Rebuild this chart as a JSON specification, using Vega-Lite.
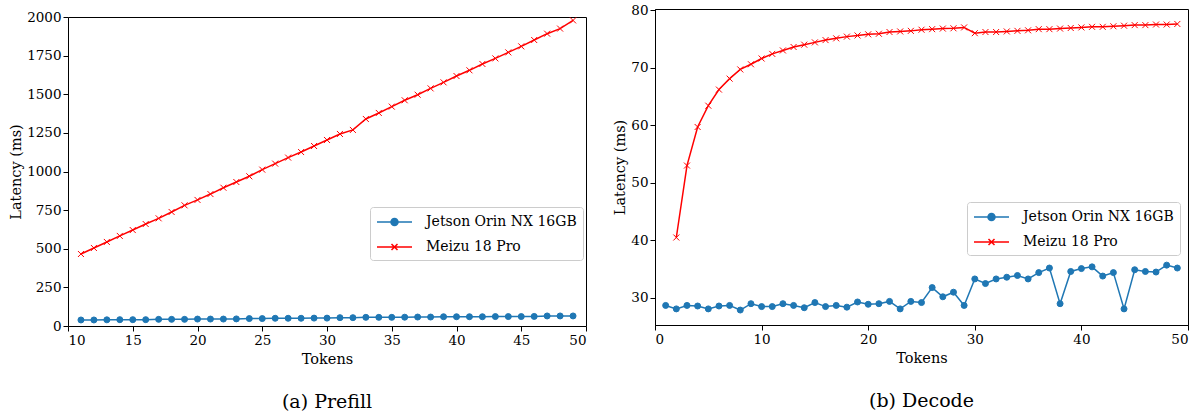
{
  "$schema": "https://vega.github.io/schema/vega-lite/v6.json",
  "background": "white",
  "padding": {"left": 8, "top": 2, "right": 0, "bottom": 0},
  "spacing": 25,
  "datasets": {
    "prefill": [
      {"tokens": 11, "latency": 39, "device": "Jetson Orin NX 16GB"},
      {"tokens": 12, "latency": 39, "device": "Jetson Orin NX 16GB"},
      {"tokens": 13, "latency": 40, "device": "Jetson Orin NX 16GB"},
      {"tokens": 14, "latency": 41, "device": "Jetson Orin NX 16GB"},
      {"tokens": 15, "latency": 41, "device": "Jetson Orin NX 16GB"},
      {"tokens": 16, "latency": 41, "device": "Jetson Orin NX 16GB"},
      {"tokens": 17, "latency": 43, "device": "Jetson Orin NX 16GB"},
      {"tokens": 18, "latency": 43, "device": "Jetson Orin NX 16GB"},
      {"tokens": 19, "latency": 43, "device": "Jetson Orin NX 16GB"},
      {"tokens": 20, "latency": 45, "device": "Jetson Orin NX 16GB"},
      {"tokens": 21, "latency": 45, "device": "Jetson Orin NX 16GB"},
      {"tokens": 22, "latency": 45, "device": "Jetson Orin NX 16GB"},
      {"tokens": 23, "latency": 46, "device": "Jetson Orin NX 16GB"},
      {"tokens": 24, "latency": 48, "device": "Jetson Orin NX 16GB"},
      {"tokens": 25, "latency": 48, "device": "Jetson Orin NX 16GB"},
      {"tokens": 26, "latency": 50, "device": "Jetson Orin NX 16GB"},
      {"tokens": 27, "latency": 50, "device": "Jetson Orin NX 16GB"},
      {"tokens": 28, "latency": 50, "device": "Jetson Orin NX 16GB"},
      {"tokens": 29, "latency": 51, "device": "Jetson Orin NX 16GB"},
      {"tokens": 30, "latency": 51, "device": "Jetson Orin NX 16GB"},
      {"tokens": 31, "latency": 54, "device": "Jetson Orin NX 16GB"},
      {"tokens": 32, "latency": 54, "device": "Jetson Orin NX 16GB"},
      {"tokens": 33, "latency": 56, "device": "Jetson Orin NX 16GB"},
      {"tokens": 34, "latency": 56, "device": "Jetson Orin NX 16GB"},
      {"tokens": 35, "latency": 56, "device": "Jetson Orin NX 16GB"},
      {"tokens": 36, "latency": 57, "device": "Jetson Orin NX 16GB"},
      {"tokens": 37, "latency": 58, "device": "Jetson Orin NX 16GB"},
      {"tokens": 38, "latency": 58, "device": "Jetson Orin NX 16GB"},
      {"tokens": 39, "latency": 60, "device": "Jetson Orin NX 16GB"},
      {"tokens": 40, "latency": 60, "device": "Jetson Orin NX 16GB"},
      {"tokens": 41, "latency": 60, "device": "Jetson Orin NX 16GB"},
      {"tokens": 42, "latency": 60, "device": "Jetson Orin NX 16GB"},
      {"tokens": 43, "latency": 61, "device": "Jetson Orin NX 16GB"},
      {"tokens": 44, "latency": 61, "device": "Jetson Orin NX 16GB"},
      {"tokens": 45, "latency": 61, "device": "Jetson Orin NX 16GB"},
      {"tokens": 46, "latency": 62, "device": "Jetson Orin NX 16GB"},
      {"tokens": 47, "latency": 65, "device": "Jetson Orin NX 16GB"},
      {"tokens": 48, "latency": 65, "device": "Jetson Orin NX 16GB"},
      {"tokens": 49, "latency": 65, "device": "Jetson Orin NX 16GB"},
      {"tokens": 11, "latency": 466, "device": "Meizu 18 Pro"},
      {"tokens": 12, "latency": 505, "device": "Meizu 18 Pro"},
      {"tokens": 13, "latency": 544, "device": "Meizu 18 Pro"},
      {"tokens": 14, "latency": 583, "device": "Meizu 18 Pro"},
      {"tokens": 15, "latency": 621, "device": "Meizu 18 Pro"},
      {"tokens": 16, "latency": 660, "device": "Meizu 18 Pro"},
      {"tokens": 17, "latency": 697, "device": "Meizu 18 Pro"},
      {"tokens": 18, "latency": 738, "device": "Meizu 18 Pro"},
      {"tokens": 19, "latency": 781, "device": "Meizu 18 Pro"},
      {"tokens": 20, "latency": 816, "device": "Meizu 18 Pro"},
      {"tokens": 21, "latency": 854, "device": "Meizu 18 Pro"},
      {"tokens": 22, "latency": 895, "device": "Meizu 18 Pro"},
      {"tokens": 23, "latency": 932, "device": "Meizu 18 Pro"},
      {"tokens": 24, "latency": 969, "device": "Meizu 18 Pro"},
      {"tokens": 25, "latency": 1012, "device": "Meizu 18 Pro"},
      {"tokens": 26, "latency": 1051, "device": "Meizu 18 Pro"},
      {"tokens": 27, "latency": 1090, "device": "Meizu 18 Pro"},
      {"tokens": 28, "latency": 1126, "device": "Meizu 18 Pro"},
      {"tokens": 29, "latency": 1165, "device": "Meizu 18 Pro"},
      {"tokens": 30, "latency": 1204, "device": "Meizu 18 Pro"},
      {"tokens": 31, "latency": 1243, "device": "Meizu 18 Pro"},
      {"tokens": 32, "latency": 1269, "device": "Meizu 18 Pro"},
      {"tokens": 33, "latency": 1340, "device": "Meizu 18 Pro"},
      {"tokens": 34, "latency": 1379, "device": "Meizu 18 Pro"},
      {"tokens": 35, "latency": 1420, "device": "Meizu 18 Pro"},
      {"tokens": 36, "latency": 1461, "device": "Meizu 18 Pro"},
      {"tokens": 37, "latency": 1497, "device": "Meizu 18 Pro"},
      {"tokens": 38, "latency": 1538, "device": "Meizu 18 Pro"},
      {"tokens": 39, "latency": 1577, "device": "Meizu 18 Pro"},
      {"tokens": 40, "latency": 1618, "device": "Meizu 18 Pro"},
      {"tokens": 41, "latency": 1655, "device": "Meizu 18 Pro"},
      {"tokens": 42, "latency": 1696, "device": "Meizu 18 Pro"},
      {"tokens": 43, "latency": 1732, "device": "Meizu 18 Pro"},
      {"tokens": 44, "latency": 1771, "device": "Meizu 18 Pro"},
      {"tokens": 45, "latency": 1810, "device": "Meizu 18 Pro"},
      {"tokens": 46, "latency": 1851, "device": "Meizu 18 Pro"},
      {"tokens": 47, "latency": 1892, "device": "Meizu 18 Pro"},
      {"tokens": 48, "latency": 1925, "device": "Meizu 18 Pro"},
      {"tokens": 49, "latency": 1978, "device": "Meizu 18 Pro"}
    ],
    "decode": [
      {"tokens": 1, "latency": 28.7, "device": "Jetson Orin NX 16GB"},
      {"tokens": 2, "latency": 28.1, "device": "Jetson Orin NX 16GB"},
      {"tokens": 3, "latency": 28.7, "device": "Jetson Orin NX 16GB"},
      {"tokens": 4, "latency": 28.6, "device": "Jetson Orin NX 16GB"},
      {"tokens": 5, "latency": 28.1, "device": "Jetson Orin NX 16GB"},
      {"tokens": 6, "latency": 28.6, "device": "Jetson Orin NX 16GB"},
      {"tokens": 7, "latency": 28.7, "device": "Jetson Orin NX 16GB"},
      {"tokens": 8, "latency": 27.9, "device": "Jetson Orin NX 16GB"},
      {"tokens": 9, "latency": 29.0, "device": "Jetson Orin NX 16GB"},
      {"tokens": 10, "latency": 28.5, "device": "Jetson Orin NX 16GB"},
      {"tokens": 11, "latency": 28.5, "device": "Jetson Orin NX 16GB"},
      {"tokens": 12, "latency": 29.0, "device": "Jetson Orin NX 16GB"},
      {"tokens": 13, "latency": 28.7, "device": "Jetson Orin NX 16GB"},
      {"tokens": 14, "latency": 28.3, "device": "Jetson Orin NX 16GB"},
      {"tokens": 15, "latency": 29.2, "device": "Jetson Orin NX 16GB"},
      {"tokens": 16, "latency": 28.5, "device": "Jetson Orin NX 16GB"},
      {"tokens": 17, "latency": 28.7, "device": "Jetson Orin NX 16GB"},
      {"tokens": 18, "latency": 28.4, "device": "Jetson Orin NX 16GB"},
      {"tokens": 19, "latency": 29.3, "device": "Jetson Orin NX 16GB"},
      {"tokens": 20, "latency": 28.9, "device": "Jetson Orin NX 16GB"},
      {"tokens": 21, "latency": 29.0, "device": "Jetson Orin NX 16GB"},
      {"tokens": 22, "latency": 29.4, "device": "Jetson Orin NX 16GB"},
      {"tokens": 23, "latency": 28.1, "device": "Jetson Orin NX 16GB"},
      {"tokens": 24, "latency": 29.4, "device": "Jetson Orin NX 16GB"},
      {"tokens": 25, "latency": 29.2, "device": "Jetson Orin NX 16GB"},
      {"tokens": 26, "latency": 31.8, "device": "Jetson Orin NX 16GB"},
      {"tokens": 27, "latency": 30.2, "device": "Jetson Orin NX 16GB"},
      {"tokens": 28, "latency": 31.0, "device": "Jetson Orin NX 16GB"},
      {"tokens": 29, "latency": 28.7, "device": "Jetson Orin NX 16GB"},
      {"tokens": 30, "latency": 33.3, "device": "Jetson Orin NX 16GB"},
      {"tokens": 31, "latency": 32.5, "device": "Jetson Orin NX 16GB"},
      {"tokens": 32, "latency": 33.3, "device": "Jetson Orin NX 16GB"},
      {"tokens": 33, "latency": 33.6, "device": "Jetson Orin NX 16GB"},
      {"tokens": 34, "latency": 33.9, "device": "Jetson Orin NX 16GB"},
      {"tokens": 35, "latency": 33.3, "device": "Jetson Orin NX 16GB"},
      {"tokens": 36, "latency": 34.4, "device": "Jetson Orin NX 16GB"},
      {"tokens": 37, "latency": 35.2, "device": "Jetson Orin NX 16GB"},
      {"tokens": 38, "latency": 29.0, "device": "Jetson Orin NX 16GB"},
      {"tokens": 39, "latency": 34.6, "device": "Jetson Orin NX 16GB"},
      {"tokens": 40, "latency": 35.1, "device": "Jetson Orin NX 16GB"},
      {"tokens": 41, "latency": 35.4, "device": "Jetson Orin NX 16GB"},
      {"tokens": 42, "latency": 33.8, "device": "Jetson Orin NX 16GB"},
      {"tokens": 43, "latency": 34.4, "device": "Jetson Orin NX 16GB"},
      {"tokens": 44, "latency": 28.1, "device": "Jetson Orin NX 16GB"},
      {"tokens": 45, "latency": 34.9, "device": "Jetson Orin NX 16GB"},
      {"tokens": 46, "latency": 34.6, "device": "Jetson Orin NX 16GB"},
      {"tokens": 47, "latency": 34.5, "device": "Jetson Orin NX 16GB"},
      {"tokens": 48, "latency": 35.7, "device": "Jetson Orin NX 16GB"},
      {"tokens": 49, "latency": 35.2, "device": "Jetson Orin NX 16GB"},
      {"tokens": 2, "latency": 40.5, "device": "Meizu 18 Pro"},
      {"tokens": 3, "latency": 53.0, "device": "Meizu 18 Pro"},
      {"tokens": 4, "latency": 59.7, "device": "Meizu 18 Pro"},
      {"tokens": 5, "latency": 63.4, "device": "Meizu 18 Pro"},
      {"tokens": 6, "latency": 66.2, "device": "Meizu 18 Pro"},
      {"tokens": 7, "latency": 68.1, "device": "Meizu 18 Pro"},
      {"tokens": 8, "latency": 69.7, "device": "Meizu 18 Pro"},
      {"tokens": 9, "latency": 70.6, "device": "Meizu 18 Pro"},
      {"tokens": 10, "latency": 71.6, "device": "Meizu 18 Pro"},
      {"tokens": 11, "latency": 72.4, "device": "Meizu 18 Pro"},
      {"tokens": 12, "latency": 73.0, "device": "Meizu 18 Pro"},
      {"tokens": 13, "latency": 73.6, "device": "Meizu 18 Pro"},
      {"tokens": 14, "latency": 74.0, "device": "Meizu 18 Pro"},
      {"tokens": 15, "latency": 74.4, "device": "Meizu 18 Pro"},
      {"tokens": 16, "latency": 74.8, "device": "Meizu 18 Pro"},
      {"tokens": 17, "latency": 75.1, "device": "Meizu 18 Pro"},
      {"tokens": 18, "latency": 75.4, "device": "Meizu 18 Pro"},
      {"tokens": 19, "latency": 75.6, "device": "Meizu 18 Pro"},
      {"tokens": 20, "latency": 75.8, "device": "Meizu 18 Pro"},
      {"tokens": 21, "latency": 75.9, "device": "Meizu 18 Pro"},
      {"tokens": 22, "latency": 76.2, "device": "Meizu 18 Pro"},
      {"tokens": 23, "latency": 76.3, "device": "Meizu 18 Pro"},
      {"tokens": 24, "latency": 76.4, "device": "Meizu 18 Pro"},
      {"tokens": 25, "latency": 76.6, "device": "Meizu 18 Pro"},
      {"tokens": 26, "latency": 76.7, "device": "Meizu 18 Pro"},
      {"tokens": 27, "latency": 76.8, "device": "Meizu 18 Pro"},
      {"tokens": 28, "latency": 76.85, "device": "Meizu 18 Pro"},
      {"tokens": 29, "latency": 77.0, "device": "Meizu 18 Pro"},
      {"tokens": 30, "latency": 76.0, "device": "Meizu 18 Pro"},
      {"tokens": 31, "latency": 76.2, "device": "Meizu 18 Pro"},
      {"tokens": 32, "latency": 76.2, "device": "Meizu 18 Pro"},
      {"tokens": 33, "latency": 76.3, "device": "Meizu 18 Pro"},
      {"tokens": 34, "latency": 76.4, "device": "Meizu 18 Pro"},
      {"tokens": 35, "latency": 76.5, "device": "Meizu 18 Pro"},
      {"tokens": 36, "latency": 76.7, "device": "Meizu 18 Pro"},
      {"tokens": 37, "latency": 76.7, "device": "Meizu 18 Pro"},
      {"tokens": 38, "latency": 76.8, "device": "Meizu 18 Pro"},
      {"tokens": 39, "latency": 76.9, "device": "Meizu 18 Pro"},
      {"tokens": 40, "latency": 77.0, "device": "Meizu 18 Pro"},
      {"tokens": 41, "latency": 77.1, "device": "Meizu 18 Pro"},
      {"tokens": 42, "latency": 77.1, "device": "Meizu 18 Pro"},
      {"tokens": 43, "latency": 77.2, "device": "Meizu 18 Pro"},
      {"tokens": 44, "latency": 77.3, "device": "Meizu 18 Pro"},
      {"tokens": 45, "latency": 77.4, "device": "Meizu 18 Pro"},
      {"tokens": 46, "latency": 77.4, "device": "Meizu 18 Pro"},
      {"tokens": 47, "latency": 77.5, "device": "Meizu 18 Pro"},
      {"tokens": 48, "latency": 77.5, "device": "Meizu 18 Pro"},
      {"tokens": 49, "latency": 77.6, "device": "Meizu 18 Pro"}
    ]
  },
  "config": {
    "font": "DejaVu Serif",
    "view": {"stroke": "black", "strokeWidth": 1},
    "axis": {
      "grid": false,
      "domainColor": "black", "domainWidth": 1,
      "tickColor": "black", "tickSize": 5, "tickWidth": 1,
      "labelFont": "DejaVu Serif", "labelFontSize": 13.5, "labelColor": "black", "labelPadding": 2,
      "titleFont": "DejaVu Serif", "titleFontSize": 14.5, "titleFontWeight": "normal", "titleColor": "black", "titlePadding": 6,
      "labelOverlap": false
    },
    "legend": {"labelFont": "DejaVu Serif"},
    "title": {"font": "DejaVu Serif", "fontSize": 19, "fontWeight": "normal", "color": "black"}
  },
  "hconcat": [
    {
      "width": 518, "height": 317,
      "view": {"stroke": null},
      "data": {"name": "prefill"},
      "title": {"text": "(a) Prefill", "orient": "bottom", "offset": 27, "anchor": "middle"},
      "resolve": {"scale": {"stroke": "independent", "fill": "independent", "shape": "independent"}, "axis": {"x": "independent", "y": "independent"}},
      "layer": [
        {
          "mark": {"type": "line", "strokeWidth": 1.5},
          "encoding": {
            "x": {"field": "tokens", "type": "quantitative", "scale": {"domain": [10, 50], "nice": false, "zero": false},
                  "axis": {"orient": "bottom", "title": "Tokens", "values": [10, 15, 20, 25, 30, 35, 40, 45, 50], "format": "d"}},
            "y": {"field": "latency", "type": "quantitative", "scale": {"domain": [0, 2000], "nice": false, "range": [317, 8]},
                  "axis": {"orient": "left", "title": "Latency (ms)", "titlePadding": 3, "values": [0, 250, 500, 750, 1000, 1250, 1500, 1750, 2000], "format": "d"}},
            "stroke": {"field": "device", "type": "nominal", "scale": {"domain": ["Jetson Orin NX 16GB", "Meizu 18 Pro"], "range": ["#1f77b4", "#ff0000"]}, "legend": null}
          }
        },
        {
          "mark": {"type": "point", "opacity": 1, "strokeWidth": 1, "size": 36},
          "encoding": {
            "x": {"field": "tokens", "type": "quantitative",
                  "axis": {"orient": "top", "offset": -8, "labels": false, "ticks": false, "domain": true, "title": null}},
            "y": {"field": "latency", "type": "quantitative",
                  "axis": {"orient": "right", "labels": false, "ticks": false, "domain": true, "title": null}},
            "fill": {"field": "device", "type": "nominal", "scale": {"domain": ["Jetson Orin NX 16GB", "Meizu 18 Pro"], "range": ["#1f77b4", "#ff0000"]}, "legend": null},
            "stroke": {"field": "device", "type": "nominal", "scale": {"domain": ["Jetson Orin NX 16GB", "Meizu 18 Pro"], "range": ["#1f77b4", "#ff0000"]}, "legend": null},
            "shape": {"field": "device", "type": "nominal", "scale": {"domain": ["Jetson Orin NX 16GB", "Meizu 18 Pro"], "range": ["circle", "M-1,-1L1,1M-1,1L1,-1"]}, "legend": null}
          }
        },
        {
          "transform": [{"filter": "datum.device == 'none'"}],
          "mark": {"type": "point", "opacity": 1, "strokeWidth": 1.5, "size": 256},
          "encoding": {
            "fill": {"field": "device", "type": "nominal", "scale": {"domain": ["Jetson Orin NX 16GB", "Meizu 18 Pro"], "range": ["#1f77b4", "#ff0000"]},
                     "legend": {"title": null, "orient": "none", "legendX": 302, "legendY": 198, "padding": 6, "strokeColor": "#cccccc", "fillColor": "rgba(255,255,255,0.8)", "cornerRadius": 3, "labelFontSize": 14, "labelColor": "black", "labelOffset": 32, "rowPadding": 9, "symbolSize": 256, "symbolStrokeWidth": 1.5, "symbolOpacity": 1, "labelLimit": 300}},
            "stroke": {"field": "device", "type": "nominal", "scale": {"domain": ["Jetson Orin NX 16GB", "Meizu 18 Pro"], "range": ["#1f77b4", "#ff0000"]},
                     "legend": {"title": null, "orient": "none", "legendX": 302, "legendY": 198, "padding": 6, "strokeColor": "#cccccc", "fillColor": "rgba(255,255,255,0.8)", "cornerRadius": 3, "labelFontSize": 14, "labelColor": "black", "labelOffset": 32, "rowPadding": 9, "symbolSize": 256, "symbolStrokeWidth": 1.5, "symbolOpacity": 1, "labelLimit": 300}},
            "shape": {"field": "device", "type": "nominal", "scale": {"domain": ["Jetson Orin NX 16GB", "Meizu 18 Pro"], "range": ["M-1,0H3.375M0.75,0A0.4375,0.4375,0,1,1,1.625,0A0.4375,0.4375,0,1,1,0.75,0Z", "M-1,0H3.375M0.8125,-0.375L1.5625,0.375M0.8125,0.375L1.5625,-0.375"]},
                     "legend": {"title": null, "orient": "none", "legendX": 302, "legendY": 198, "padding": 6, "strokeColor": "#cccccc", "fillColor": "rgba(255,255,255,0.8)", "cornerRadius": 3, "labelFontSize": 14, "labelColor": "black", "labelOffset": 32, "rowPadding": 9, "symbolSize": 256, "symbolStrokeWidth": 1.5, "symbolOpacity": 1, "labelLimit": 300}}
          }
        }
      ]
    },
    {
      "width": 533, "height": 316,
      "data": {"name": "decode"},
      "title": {"text": "(b) Decode", "orient": "bottom", "offset": 27, "anchor": "middle"},
      "resolve": {"scale": {"stroke": "independent", "fill": "independent", "shape": "independent"}},
      "layer": [
        {
          "mark": {"type": "line", "strokeWidth": 1.5},
          "encoding": {
            "x": {"field": "tokens", "type": "quantitative", "scale": {"domain": [0, 50], "nice": false},
                  "axis": {"title": "Tokens", "values": [0, 10, 20, 30, 40, 50], "format": "d"}},
            "y": {"field": "latency", "type": "quantitative", "scale": {"domain": [25.3, 80.2], "nice": false, "zero": false},
                  "axis": {"title": "Latency (ms)", "titlePadding": 3, "values": [30, 40, 50, 60, 70, 80], "format": "d"}},
            "stroke": {"field": "device", "type": "nominal", "scale": {"domain": ["Jetson Orin NX 16GB", "Meizu 18 Pro"], "range": ["#1f77b4", "#ff0000"]}, "legend": null}
          }
        },
        {
          "mark": {"type": "point", "opacity": 1, "strokeWidth": 1, "size": 36},
          "encoding": {
            "x": {"field": "tokens", "type": "quantitative",
                  "axis": {"title": "Tokens", "values": [0, 10, 20, 30, 40, 50], "format": "d"}},
            "y": {"field": "latency", "type": "quantitative",
                  "axis": {"title": "Latency (ms)", "titlePadding": 3, "values": [30, 40, 50, 60, 70, 80], "format": "d"}},
            "fill": {"field": "device", "type": "nominal", "scale": {"domain": ["Jetson Orin NX 16GB", "Meizu 18 Pro"], "range": ["#1f77b4", "#ff0000"]}, "legend": null},
            "stroke": {"field": "device", "type": "nominal", "scale": {"domain": ["Jetson Orin NX 16GB", "Meizu 18 Pro"], "range": ["#1f77b4", "#ff0000"]}, "legend": null},
            "shape": {"field": "device", "type": "nominal", "scale": {"domain": ["Jetson Orin NX 16GB", "Meizu 18 Pro"], "range": ["circle", "M-1,-1L1,1M-1,1L1,-1"]}, "legend": null}
          }
        },
        {
          "transform": [{"filter": "datum.device == 'none'"}],
          "mark": {"type": "point", "opacity": 1, "strokeWidth": 1.5, "size": 256},
          "encoding": {
            "fill": {"field": "device", "type": "nominal", "scale": {"domain": ["Jetson Orin NX 16GB", "Meizu 18 Pro"], "range": ["#1f77b4", "#ff0000"]},
                     "legend": {"title": null, "orient": "none", "legendX": 312, "legendY": 193, "padding": 6, "strokeColor": "#cccccc", "fillColor": "rgba(255,255,255,0.8)", "cornerRadius": 3, "labelFontSize": 14, "labelColor": "black", "labelOffset": 32, "rowPadding": 9, "symbolSize": 256, "symbolStrokeWidth": 1.5, "symbolOpacity": 1, "labelLimit": 300}},
            "stroke": {"field": "device", "type": "nominal", "scale": {"domain": ["Jetson Orin NX 16GB", "Meizu 18 Pro"], "range": ["#1f77b4", "#ff0000"]},
                     "legend": {"title": null, "orient": "none", "legendX": 312, "legendY": 193, "padding": 6, "strokeColor": "#cccccc", "fillColor": "rgba(255,255,255,0.8)", "cornerRadius": 3, "labelFontSize": 14, "labelColor": "black", "labelOffset": 32, "rowPadding": 9, "symbolSize": 256, "symbolStrokeWidth": 1.5, "symbolOpacity": 1, "labelLimit": 300}},
            "shape": {"field": "device", "type": "nominal", "scale": {"domain": ["Jetson Orin NX 16GB", "Meizu 18 Pro"], "range": ["M-1,0H3.375M0.75,0A0.4375,0.4375,0,1,1,1.625,0A0.4375,0.4375,0,1,1,0.75,0Z", "M-1,0H3.375M0.8125,-0.375L1.5625,0.375M0.8125,0.375L1.5625,-0.375"]},
                     "legend": {"title": null, "orient": "none", "legendX": 312, "legendY": 193, "padding": 6, "strokeColor": "#cccccc", "fillColor": "rgba(255,255,255,0.8)", "cornerRadius": 3, "labelFontSize": 14, "labelColor": "black", "labelOffset": 32, "rowPadding": 9, "symbolSize": 256, "symbolStrokeWidth": 1.5, "symbolOpacity": 1, "labelLimit": 300}}
          }
        }
      ]
    }
  ]
}
